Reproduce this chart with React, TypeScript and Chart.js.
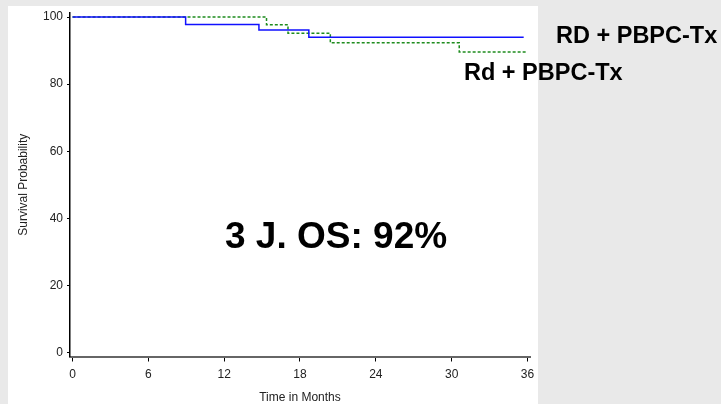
import React, { useEffect, useRef } from "react";
import { Chart, registerables } from "chart.js";

Chart.register(...registerables);

const FONT = "'Liberation Sans', Arial, Helvetica, sans-serif";

// Kaplan-Meier step data (time in months, survival %)
const rdTimes = [0, 8.95, 14.75, 18.7, 35.7];
const rdValues = [100, 97.8, 96.1, 94.0, 94.0];
const rdLowTimes = [0, 15.35, 17.05, 20.4, 30.6, 35.95];
const rdLowValues = [100, 97.7, 95.2, 92.3, 89.6, 89.6];

const xTicks = [0, 6, 12, 18, 24, 30, 36];
const yTicks = [0, 20, 40, 60, 80, 100];

const seriesLabels = ["RD + PBPC-Tx", "Rd + PBPC-Tx"];
const annotation = "3 J. OS: 92%";

const toPoints = (t: number[], v: number[]) => t.map((x, i) => ({ x, y: v[i] }));

export default function App() {
  const ref = useRef<HTMLCanvasElement | null>(null);

  useEffect(() => {
    if (!ref.current) return;
    const chart = new Chart(ref.current, {
      type: "line",
      data: {
        datasets: [
          {
            label: seriesLabels[0],
            data: toPoints(rdTimes, rdValues),
            borderColor: "#1010ff",
            borderWidth: 1.5,
            stepped: "before",
            pointRadius: 0,
            fill: false,
          },
          {
            label: seriesLabels[1],
            data: toPoints(rdLowTimes, rdLowValues),
            borderColor: "#1e8c1e",
            borderWidth: 1.5,
            borderDash: [3, 2],
            stepped: "before",
            pointRadius: 0,
            fill: false,
          },
        ],
      },
      options: {
        responsive: false,
        animation: false,
        devicePixelRatio: 1,
        layout: { padding: { left: 0, right: 191, top: 13, bottom: 0 } },
        plugins: { legend: { display: false }, tooltip: { enabled: false } },
        scales: {
          x: {
            type: "linear",
            min: -0.2,
            max: 36.2,
            afterBuildTicks: (axis: any) => {
              axis.ticks = xTicks.map((v) => ({ value: v }));
            },
            afterFit: (s: any) => {
              s.height = 47.5;
            },
            grid: {
              drawOnChartArea: false,
              drawTicks: true,
              tickLength: 5,
              color: "#000",
              tickColor: "#000",
            },
            border: { display: true, color: "#666", width: 2 },
            ticks: {
              color: "#222",
              font: { family: FONT, size: 12 },
              padding: 6,
              maxRotation: 0,
              autoSkip: false,
            },
            title: {
              display: true,
              text: "Time in Months",
              color: "#222",
              font: { family: FONT, size: 12, lineHeight: 1 },
              padding: { top: 0, bottom: 0 },
            },
          },
          y: {
            type: "linear",
            min: -1.2,
            max: 101.2,
            afterBuildTicks: (axis: any) => {
              axis.ticks = yTicks.map((v) => ({ value: v }));
            },
            afterFit: (s: any) => {
              s.width = 70;
            },
            grid: {
              drawOnChartArea: false,
              drawTicks: true,
              tickLength: 3,
              color: "#000",
              tickColor: "#000",
            },
            border: { display: true, color: "#000", width: 1.5 },
            ticks: {
              color: "#222",
              font: { family: FONT, size: 12 },
              padding: 4,
              autoSkip: false,
            },
            title: {
              display: true,
              text: "Survival Probability",
              color: "#222",
              font: { family: FONT, size: 12, lineHeight: 1 },
              padding: { top: 17.5, bottom: 0 },
            },
          },
        },
      },
    } as any);
    return () => chart.destroy();
  }, []);

  const textBase: React.CSSProperties = {
    position: "absolute",
    fontFamily: FONT,
    fontWeight: "bold",
    color: "#000",
    lineHeight: 1,
    whiteSpace: "nowrap",
    margin: 0,
  };

  return (
    <div
      style={{
        position: "fixed",
        left: 0,
        top: 0,
        width: 721,
        height: 404,
        background: "#e9e9e9",
        overflow: "hidden",
      }}
    >
      <div
        style={{
          position: "absolute",
          left: 8,
          top: 6,
          width: 530,
          height: 398,
          background: "#fff",
        }}
      />
      <canvas
        ref={ref}
        width={721}
        height={404}
        style={{ position: "absolute", left: 0, top: 0, width: 721, height: 404 }}
      />
      <div style={{ ...textBase, left: 225, top: 216.7, fontSize: 37 }}>{annotation}</div>
      <div style={{ ...textBase, left: 556, top: 24, fontSize: 23.5 }}>{seriesLabels[0]}</div>
      <div style={{ ...textBase, left: 464, top: 61, fontSize: 23.5 }}>{seriesLabels[1]}</div>
    </div>
  );
}
